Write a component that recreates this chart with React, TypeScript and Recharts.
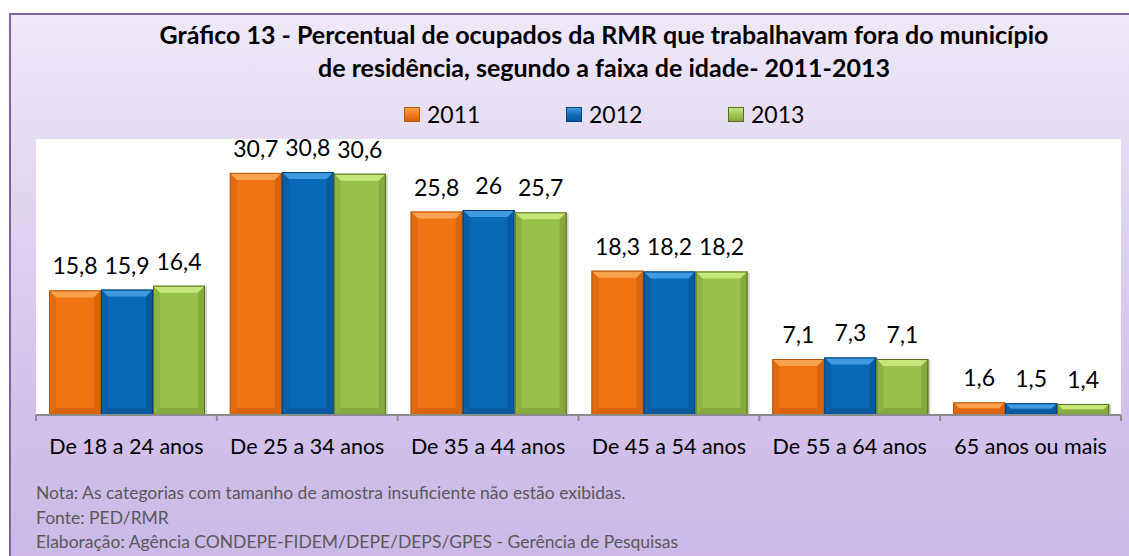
import React from "react";
import { BarChart, Bar, XAxis, YAxis, CartesianGrid, LabelList } from "recharts";

const categories = [
  "De 18 a 24 anos",
  "De 25 a 34 anos",
  "De 35 a 44 anos",
  "De 45 a 54 anos",
  "De 55 a 64 anos",
  "65 anos ou mais",
];
const values2011 = [15.8, 30.7, 25.8, 18.3, 7.1, 1.6];
const values2012 = [15.9, 30.8, 26, 18.2, 7.3, 1.5];
const values2013 = [16.4, 30.6, 25.7, 18.2, 7.1, 1.4];
const titleLines = [
  "Gráfico 13 - Percentual de ocupados da RMR que trabalhavam fora do município",
  "de residência, segundo a faixa de idade- 2011-2013",
];
const notes = [
  "Nota: As categorias com tamanho de amostra insuficiente não estão exibidas.",
  "Fonte: PED/RMR",
  "Elaboração: Agência CONDEPE-FIDEM/DEPE/DEPS/GPES - Gerência de Pesquisas",
];

const series = [
  { key: "y2011", name: "2011", base: "#f07414", light: "#f9a24e", dark: "#b9560a", side: "#d8650e" },
  { key: "y2012", name: "2012", base: "#0a69b6", light: "#3f9ae0", dark: "#053f78", side: "#085a9e" },
  { key: "y2013", name: "2013", base: "#98c04a", light: "#c6e67a", dark: "#56701e", side: "#86a93e" },
];

const data = categories.map((c, i) => ({
  name: c,
  y2011: values2011[i],
  y2012: values2012[i],
  y2013: values2013[i],
}));

const FONT = "Lato, 'Open Sans', sans-serif";
const AXIS = "#8c8c8c";

const fmt = (v: any) => String(v).replace(".", ",");

function bevelShape(s: (typeof series)[number]) {
  return (props: any) => {
    const { x, y, width: w, height: h } = props;
    if (!h || h <= 0) return <g />;
    const b = Math.min(7, h / 2.2);
    return (
      <g>
        <rect x={x + 2} y={y + 1} width={w} height={h} fill="rgba(0,0,0,0.18)" />
        <rect x={x} y={y} width={w} height={h} fill={s.base} />
        <polygon points={`${x},${y} ${x + w},${y} ${x + w - b},${y + b} ${x + b},${y + b}`} fill={s.light} />
        <polygon points={`${x},${y} ${x + b},${y + b} ${x + b},${y + h - b} ${x},${y + h}`} fill={s.side} opacity={0.6} />
        <polygon points={`${x + w},${y} ${x + w},${y + h} ${x + w - b},${y + h - b} ${x + w - b},${y + b}`} fill={s.side} />
        <polygon points={`${x},${y + h} ${x + w},${y + h} ${x + w - b},${y + h - b} ${x + b},${y + h - b}`} fill={s.side} />
        <rect x={x + 0.5} y={y + 0.5} width={w - 1} height={h - 1} fill="none" stroke={s.dark} strokeWidth={1} />
      </g>
    );
  };
}

// label centred in the band, tick marks on the band boundaries
const CategoryTick = (props: any) => {
  const { x, y, payload, index } = props;
  const half = payload.offset || 0;
  const top = y - 8;
  return (
    <g>
      <line x1={x - half} x2={x - half} y1={top} y2={top + 6} stroke={AXIS} strokeWidth={2} />
      {index === categories.length - 1 && (
        <line x1={x + half} x2={x + half} y1={top} y2={top + 6} stroke={AXIS} strokeWidth={2} />
      )}
      <text x={x} y={y + 31} textAnchor="middle" fontFamily={FONT} fontSize={21.5} fill="#000">
        {payload.value}
      </text>
    </g>
  );
};

export default function App() {
  return (
    <div style={{ position: "absolute", left: 0, top: 0, width: 1129, height: 556, background: "#fff", overflow: "hidden" }}>
      <div
        style={{
          position: "absolute",
          left: 9,
          top: 13,
          width: 1140,
          height: 580,
          border: "2px solid #8064a2",
          background: "linear-gradient(to bottom, #eee8f7 0%, #e4daf2 25%, #d4c5ec 60%, #c9b6e6 100%)",
        }}
      />
      <div
        style={{
          position: "absolute",
          left: 0,
          top: 18,
          width: 1208,
          textAlign: "center",
          fontFamily: FONT,
          fontWeight: 700,
          fontSize: 25,
          lineHeight: "33px",
          color: "#000",
          whiteSpace: "nowrap",
        }}
      >
        {titleLines.map((t) => (
          <div key={t}>{t}</div>
        ))}
      </div>
      <div style={{ position: "absolute", left: 404, top: 100, display: "flex", fontFamily: FONT, fontSize: 23, color: "#000" }}>
        {series.map((s) => (
          <div key={s.key} style={{ display: "flex", alignItems: "center", width: 162 }}>
            <span
              style={{
                display: "inline-block",
                width: 16,
                height: 15,
                marginRight: 7,
                background: `linear-gradient(to bottom, ${s.light}, ${s.base} 60%, ${s.side})`,
                border: `1px solid ${s.dark}`,
                boxSizing: "border-box",
              }}
            />
            <span>{s.name}</span>
          </div>
        ))}
      </div>
      <div style={{ position: "absolute", left: 0, top: 0 }}>
        <BarChart
          width={1129}
          height={556}
          data={data}
          margin={{ top: 139, right: 8, left: 36, bottom: 101 }}
          barCategoryGap={13}
          barGap={0}
        >
          <CartesianGrid horizontal={false} vertical={false} fill="#ffffff" />
          <XAxis
            dataKey="name"
            height={40}
            stroke={AXIS}
            strokeWidth={2}
            tickLine={false}
            tickSize={6}
            interval={0}
            tick={<CategoryTick />}
          />
          <YAxis hide domain={[0, 35]} type="number" />
          {series.map((s) => (
            <Bar key={s.key} dataKey={s.key} name={s.name} fill={s.base} shape={bevelShape(s)} isAnimationActive={false}>
              <LabelList
                dataKey={s.key}
                position="top"
                offset={16}
                formatter={fmt}
                style={{ fontFamily: FONT, fontSize: 23, fill: "#000" }}
              />
            </Bar>
          ))}
        </BarChart>
      </div>
      <div style={{ position: "absolute", left: 36, top: 481, fontFamily: FONT, fontSize: 17.5, lineHeight: "24.5px", color: "#595959" }}>
        {notes.map((n) => (
          <div key={n}>{n}</div>
        ))}
      </div>
    </div>
  );
}
